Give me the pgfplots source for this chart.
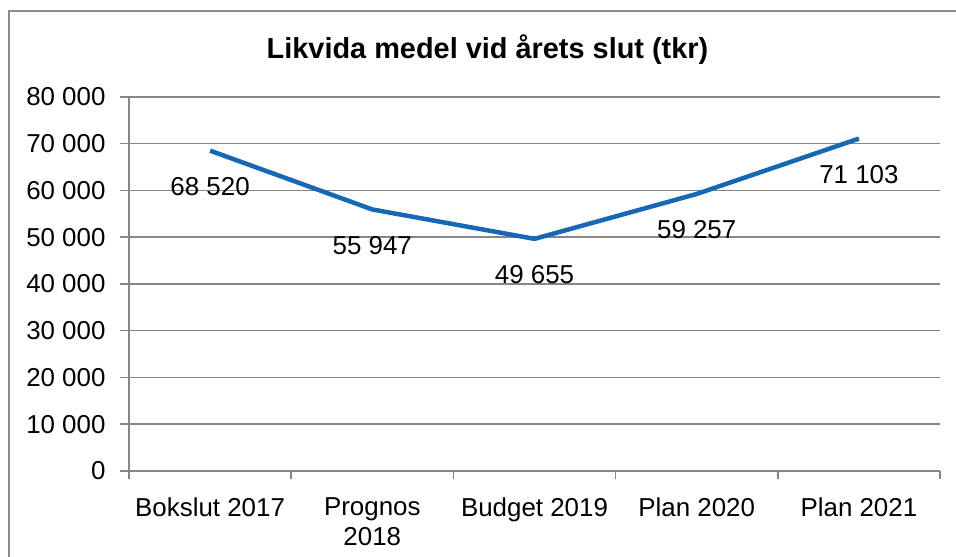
\documentclass[border=0pt]{standalone}
\usepackage{pgfplots}
\pgfplotsset{compat=1.18}
\usepackage{fontspec}
\setmainfont{Liberation Sans}
\definecolor{linec}{RGB}{22,104,180}
\definecolor{gridc}{RGB}{134,134,134}
\definecolor{framec}{RGB}{140,140,140}
\begin{document}
\begin{tikzpicture}[x=1bp,y=1bp]
\useasboundingbox (0,0) rectangle (956,557);
\draw[framec, line width=2bp] (9,-20) -- (9,546) -- (980,546);
\node[font=\fontsize{29}{34}\selectfont\bfseries] at (487.5,507) {Likvida medel vid årets slut (tkr)};
\begin{axis}[
  at={(129bp,86bp)}, anchor=south west,
  scale only axis, width=811bp, height=374bp,
  xmin=-0.5, xmax=4.5, ymin=0, ymax=80000,
  axis lines=left, axis line style={-, gridc, line width=1.5bp},
  xtick={0,1,2,3,4},
  xticklabels={Bokslut 2017, {Prognos\\2018}, Budget 2019, Plan 2020, Plan 2021},
  minor xtick={-0.5,0.5,1.5,2.5,3.5,4.5},
  ytick={0,10000,...,80000},
  scaled ticks=false,
  /pgf/number format/assume math mode=true,
  /pgf/number format/1000 sep={\ },
  tick align=outside,
  major tick length=9bp,
  minor tick length=8bp,
  x tick style={draw=none},
  minor x tick style={draw=gridc, line width=1.5bp},
  y tick style={gridc, line width=1.5bp},
  ymajorgrids, grid style={gridc, line width=1.5bp},
  tick label style={font=\fontsize{26}{30}\selectfont, text=black},
  xticklabel style={align=center, yshift=-14bp},
  yticklabel style={xshift=-11bp},
  nodes near coords,
  point meta=y,
  every node near coord/.append style={anchor=center, yshift=-36bp, font=\fontsize{26}{30}\selectfont, text=black,
    /pgf/number format/.cd, fixed, precision=0, 1000 sep={\ }, assume math mode=true},
  clip=false,
]
\addplot[linec, line width=4.5bp, mark=none] coordinates {(0,68520) (1,55947) (2,49655) (3,59257) (4,71103)};
\end{axis}
\end{tikzpicture}
\end{document}
